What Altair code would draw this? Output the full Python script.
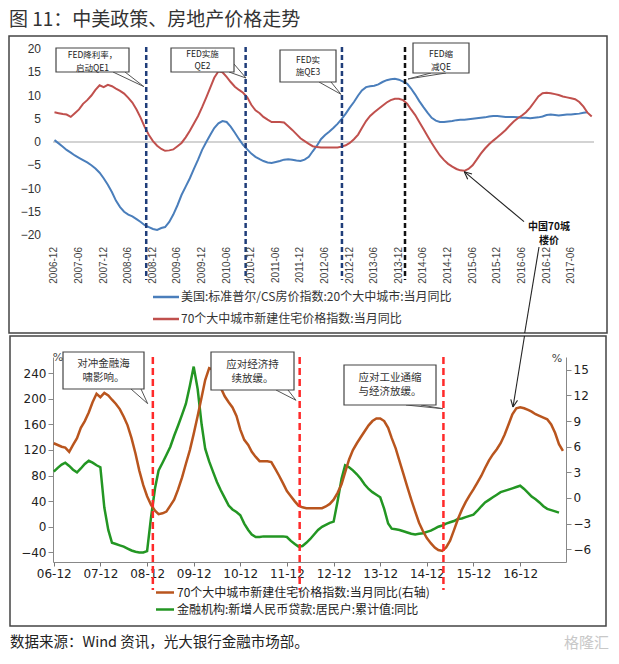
import altair as alt
import pandas as pd

CJK = "Noto Sans CJK SC"
TITLE = "图 11：中美政策、房地产价格走势"
SOURCE = "数据来源：Wind 资讯，光大银行金融市场部。"
WATERMARK = "格隆汇"

START = "2006-12-01"

# 美国:标准普尔/CS房价指数:20个大中城市:当月同比 (2006-12 .. 2017-10)
us_cs20 = [0.4,
           -0.3, -1.0, -1.7, -2.3, -2.9, -3.4, -3.9, -4.4, -5.0, -5.7, -6.6, -7.8,
           -9.2, -10.8, -12.6, -14.0, -15.0, -15.6, -16.0, -16.6, -17.2, -17.9, -18.3, -18.7,
           -18.9, -18.5, -18.3, -17.2, -15.6, -13.6, -11.4, -9.6, -7.8, -5.8, -3.8, -1.7,
           0.0, 1.6, 3.0, 4.0, 4.5, 4.3, 3.3, 2.0, 0.6, -0.6, -1.6, -2.5,
           -3.2, -3.7, -4.1, -4.4, -4.5, -4.3, -4.1, -3.8, -3.7, -3.8, -4.0, -4.1,
           -3.8, -3.2, -2.0, -0.8, 0.6, 1.5, 2.2, 3.0, 3.9, 4.9, 6.1, 7.4,
           8.6, 10.0, 11.1, 11.8, 12.0, 12.1, 12.4, 12.9, 13.3, 13.5, 13.6, 13.4,
           13.0, 12.5, 11.5, 10.2, 8.8, 7.5, 6.3, 5.2, 4.6, 4.3, 4.3, 4.4,
           4.5, 4.7, 4.8, 4.8, 4.9, 5.0, 5.1, 5.2, 5.3, 5.5, 5.6, 5.6,
           5.5, 5.4, 5.4, 5.4, 5.3, 5.2, 5.2, 5.1, 5.2, 5.3, 5.5, 5.8,
           5.9, 5.8, 5.7, 5.8, 5.9, 5.9, 6.0, 6.1, 6.3, 6.4]

# 70个大中城市新建住宅价格指数:当月同比 (2006-12 .. 2017-11)
cn_70 = [6.4,
         6.2, 6.0, 5.9, 5.4, 6.2, 7.0, 8.2, 9.0, 10.0, 11.2, 12.2, 11.8,
         12.3, 12.0, 11.5, 11.0, 10.4, 9.5, 8.5, 7.0, 5.2, 3.2, 1.5, 0.2,
         -0.8, -1.5, -1.9, -1.8, -1.6, -0.9, -0.2, 1.0, 2.4, 4.0, 5.6, 7.5,
         9.6, 11.8, 13.8, 15.2, 15.0, 14.0, 12.9, 11.9, 11.2, 10.6, 9.6, 8.0,
         6.8, 6.2, 5.4, 4.8, 4.3, 4.3, 4.3, 4.2, 3.4, 2.6, 1.7, 0.8,
         0.2, -0.4, -0.9, -1.1, -1.2, -1.2, -1.2, -1.2, -1.2, -1.0, -0.7, -0.2,
         0.6, 1.6, 3.0, 4.5, 5.6, 6.4, 7.1, 7.8, 8.5, 9.0, 9.3, 9.3,
         9.0, 8.2, 7.0, 5.8, 4.3, 2.8, 1.3, -0.2, -1.6, -2.9, -3.9, -4.7,
         -5.3, -5.8, -6.1, -6.2, -5.8, -5.0, -3.8, -2.5, -1.4, -0.5, 0.3, 1.0,
         1.8, 2.6, 3.5, 4.4, 5.1, 5.7, 6.4, 7.4, 8.6, 9.8, 10.5, 10.6,
         10.5, 10.3, 10.1, 9.8, 9.6, 9.4, 9.2, 8.6, 7.6, 6.3, 5.5]

# 金融机构:新增人民币贷款:居民户:累计值:同比 (2006-12 .. 2017-10)
hh_loan = [86,
           92, 97, 100, 95, 89, 85, 91, 98, 103, 100, 96, 93,
           30, -5, -25, -27, -29, -31, -34, -37, -39, -40, -40, -38,
           15, 60, 88, 100, 112, 125, 142, 158, 175, 192, 220, 250,
           215, 160, 122, 102, 86, 70, 57, 45, 33, 27, 23, 18,
           5, -5, -12, -16, -16, -15, -15, -15, -15, -15, -15, -16,
           -22, -27, -31, -30, -25, -19, -12, -5, 0, 3, 6, 8,
           40, 75, 96, 93, 88, 82, 75, 66, 59, 54, 50, 46,
           28, 5, -3, -4, -5, -7, -9, -11, -12, -11, -10, -8,
           -6, -3, 0, 2, 5, 7, 9, 12, 13, 15, 17, 19,
           25, 32, 38, 42, 46, 50, 54, 56, 58, 60, 62, 64,
           59, 53, 47, 43, 38, 32, 28, 26, 24, 22]

top_events = ["2008-10-12", "2010-10-20", "2012-10-04", "2014-01-15"]
top_event_colors = ["#1f3d7a", "#1f3d7a", "#1f3d7a", "#111111"]
bottom_events = ["2009-01-15", "2012-03-10", "2015-04-10"]

top_tick_labels = ["2006-12", "2007-06", "2007-12", "2008-06", "2008-12", "2009-06", "2009-12",
                   "2010-06", "2010-12", "2011-06", "2011-12", "2012-06", "2012-12", "2013-06",
                   "2013-12", "2014-06", "2014-12", "2015-06", "2015-12", "2016-06", "2016-12",
                   "2017-06"]
bottom_tick_years = list(range(2006, 2017))
top_y_ticks = [-20, -15, -10, -5, 0, 5, 10, 15, 20]
left_y_ticks = [-40, 0, 40, 80, 120, 160, 200, 240]
right_y_ticks = [-6, -3, 0, 3, 6, 9, 12, 15]

LEG_TOP = ["美国:标准普尔/CS房价指数:20个大中城市:当月同比", "70个大中城市新建住宅价格指数:当月同比"]
LEG_BOT = ["70个大中城市新建住宅价格指数:当月同比(右轴)", "金融机构:新增人民币贷款:居民户:累计值:同比"]

BLUE, RED = "#4a7ebb", "#c0504d"
BROWN, GREEN = "#b9551e", "#239623"


def dt(y, m, d):
    return alt.DateTime(year=y, month=m, date=d, utc=True)


def series(vals):
    d = pd.date_range(START, periods=len(vals), freq="MS").strftime("%Y-%m-%d")
    return pd.DataFrame({"date": d, "v": vals})


one = pd.DataFrame({"a": [0]})


def frame(x0, x1, y0, y1):
    return alt.Chart(one).mark_rect(fillOpacity=0, stroke="#444", strokeWidth=1.5).encode(
        x=alt.value(x0), x2=alt.value(x1), y=alt.value(y0), y2=alt.value(y1))


def px_rules(rows, color="#555", width=1.0):
    return alt.Chart(pd.DataFrame(rows, columns=["x1", "y1", "x2", "y2"])).mark_rule(
        color=color, strokeWidth=width).encode(
        x=alt.X("x1:Q", scale=None, axis=None), x2="x2:Q",
        y=alt.Y("y1:Q", scale=None, axis=None), y2="y2:Q")


def px_boxes(rows):
    return alt.Chart(pd.DataFrame(rows, columns=["x1", "y1", "x2", "y2"])).mark_rect(
        fill="white", stroke="#444", strokeWidth=1.2).encode(
        x=alt.X("x1:Q", scale=None, axis=None), x2="x2:Q",
        y=alt.Y("y1:Q", scale=None, axis=None), y2="y2:Q")


def px_text(rows, size, color="#333", align="center", weight="normal", font=CJK, baseline="middle"):
    return alt.Chart(pd.DataFrame(rows, columns=["x", "y", "t"])).mark_text(
        fontSize=size, color=color, align=align, baseline=baseline, font=font,
        fontWeight=weight).encode(
        x=alt.X("x:Q", scale=None, axis=None), y=alt.Y("y:Q", scale=None, axis=None), text="t:N")


# ---------------- top panel ----------------
W1, H1 = 541, 186
x_top = alt.X("date:T", title=None, axis=None,
              scale=alt.Scale(type="utc", domain=[dt(2006, 11, 20), dt(2017, 11, 18)]))
y_top = alt.Y("v:Q", title=None, axis=None, scale=alt.Scale(domain=[-20, 20], nice=False))

zero_top = alt.Chart(pd.DataFrame({"v": [0]})).mark_rule(color="#c4c4c4", strokeWidth=1.5).encode(
    y=y_top, x=alt.value(0), x2=alt.value(W1))
blue_line = alt.Chart(series(us_cs20)).mark_line(color=BLUE, strokeWidth=2).encode(x=x_top, y=y_top)
red_line = alt.Chart(series(cn_70)).mark_line(color=RED, strokeWidth=2).encode(x=x_top, y=y_top)
top_rules = alt.Chart(pd.DataFrame({"date": top_events, "c": top_event_colors})).mark_rule(
    strokeWidth=2.5, strokeDash=[5, 3]).encode(
    x=x_top, y=alt.value(-2), y2=alt.value(231), color=alt.Color("c:N", scale=None))
top_xlabels = alt.Chart(pd.DataFrame({"date": [t + "-01" for t in top_tick_labels], "t": top_tick_labels})).mark_text(
    angle=270, align="right", baseline="middle", fontSize=10, font="Liberation Sans", color="#444").encode(
    x=x_top, y=alt.value(H1 + 12), text="t:N")
top_ylabels = alt.Chart(pd.DataFrame({"v": top_y_ticks})).mark_text(
    align="right", baseline="middle", fontSize=12, font="Liberation Sans", color="#333").encode(
    y=y_top, x=alt.value(-12), text="v:Q")

top_boxes = px_boxes([(3, -1, 76, 23), (118, -1, 181, 23), (227, 1, 283, 33), (360, -6, 416, 24)])
top_tails = px_rules([(60, 23, 91, 37.7), (72, 23, 91, 37.7),
                      (176, 23, 193, 29), (181, 15, 193, 29),
                      (266, 33, 288, 45.3), (278, 33, 288, 45.3),
                      (378, 24, 355, 30), (393, 24, 355, 30)])
top_box_text = px_text([(39.5, 6, "FED降利率，"), (39.5, 18.5, "启动QE1"),
                        (149.5, 4.5, "FED实施"), (149.5, 16.5, "QE2"),
                        (255, 11, "FED实"), (255, 22.5, "施QE3"),
                        (388, 4.5, "FED缩"), (388, 17.5, "减QE")], 8.5, color="#222")
arrow_text = px_text([(496, 177.5, "中国70城"), (496, 191.5, "楼价")], 10, color="#111", weight="bold")
arrows_top = px_rules([(471, 172.7, 411.3, 122.7), (411.3, 122.7, 414.7, 130.2), (411.3, 122.7, 419, 125),
                       (486, 198, 471.7, 284)], color="#222", width=1.1)
leg_top_lines = alt.Chart(pd.DataFrame({"y": [248, 270], "c": [BLUE, RED]})).mark_rule(strokeWidth=2.5).encode(
    x=alt.value(100), x2=alt.value(126), y=alt.Y("y:Q", scale=None, axis=None), color=alt.Color("c:N", scale=None))
leg_top_text = px_text([(128, 248, LEG_TOP[0]), (128, 270, LEG_TOP[1])], 12, color="#333", align="left")
# invisible spacer fixing the top edge of the page content
spacer = alt.Chart(one).mark_rule(opacity=0, strokeWidth=1).encode(
    x=alt.value(-44), x2=alt.value(-40), y=alt.value(-41))
title_text = px_text([(-44, -29, TITLE)], 19, color="#333", align="left")

top = alt.layer(frame(-44, 554, -13, 284), spacer, zero_top, blue_line, red_line, top_rules,
                top_xlabels, top_ylabels,
                top_tails, top_boxes, top_box_text, arrows_top, arrow_text,
                leg_top_lines, leg_top_text, title_text).properties(width=W1, height=H1)

# ---------------- bottom panel ----------------
W2, H2 = 513, 205
x_bot = alt.X("date:T", title=None,
              scale=alt.Scale(type="utc", domain=[dt(2006, 11, 25), dt(2017, 11, 25)]),
              axis=alt.Axis(values=[dt(y, 12, 1) for y in bottom_tick_years], format="%y-%m",
                            labelFontSize=12, labelFont="DejaVu Sans", labelColor="#222",
                            tickSize=4, tickColor="#777", domainColor="#888", labelPadding=2,
                            grid=False, labelOverlap=False, labelFlush=False))
green_line = alt.Chart(series(hh_loan)).mark_line(color=GREEN, strokeWidth=2.5).encode(
    x=x_bot,
    y=alt.Y("v:Q", title=None, scale=alt.Scale(domain=[-55, 265], nice=False),
            axis=alt.Axis(orient="left", values=left_y_ticks, format="d", labelFontSize=12,
                          labelFont="DejaVu Sans", labelColor="#222", tickSize=5, tickColor="#888",
                          domainColor="#888", labelPadding=2, grid=False, labelOverlap=False,
                          labelFlush=False)))
brown_line = alt.Chart(series(cn_70)).mark_line(color=BROWN, strokeWidth=2.5).encode(
    x=x_bot,
    y=alt.Y("v:Q", title=None, scale=alt.Scale(domain=[-7.5, 16.5], nice=False),
            axis=alt.Axis(orient="right", values=right_y_ticks, format="d", labelFontSize=12,
                          labelFont="DejaVu Sans", labelColor="#222", tickSize=5, tickColor="#888",
                          domainColor="#888", labelPadding=2, grid=False, labelOverlap=False,
                          labelFlush=False)))
bot_rules = alt.Chart(pd.DataFrame({"date": bottom_events})).mark_rule(
    color="#ff2a2a", strokeWidth=2.5, strokeDash=[7, 4]).encode(
    x=x_bot, y=alt.value(0), y2=alt.value(233))
bot_boxes = px_boxes([(10, -5, 91, 32), (158, -5, 241, 33), (291, 8, 383, 48)])
bot_tails = px_rules([(78, 32, 94.7, 46.7), (88, 32, 94.7, 46.7),
                      (223, 33, 243, 43.3), (235, 33, 243, 43.3),
                      (353, 48, 389.7, 51.7), (368, 48, 389.7, 51.7)])
bot_box_text = px_text([(50.5, 6.5, "对冲金融海"), (50.5, 20.5, "啸影响。"),
                        (199.5, 8, "应对经济持"), (199.5, 22, "续放缓。"),
                        (337, 21, "应对工业通缩"), (337, 35, "与经济放缓。")], 10.5, color="#333")
pct_text = px_text([(5, 1, "%"), (504, 2, "%")], 11, color="#444", font="DejaVu Sans")
arrows_bot = px_rules([(471.5, -21, 460, 50), (460, 50, 464.5, 43.4), (460, 50, 457.8, 42.3)],
                      color="#222", width=1.1)
leg_bot_lines = alt.Chart(pd.DataFrame({"y": [235.5, 252.5], "c": [BROWN, GREEN]})).mark_rule(strokeWidth=2.5).encode(
    x=alt.value(103), x2=alt.value(121), y=alt.Y("y:Q", scale=None, axis=None), color=alt.Color("c:N", scale=None))
leg_bot_text = px_text([(124, 235.5, LEG_BOT[0]), (124, 252.5, LEG_BOT[1])], 12, color="#222", align="left")
footer = px_text([(-43, 286, SOURCE)], 14.5, color="#222", align="left")
mark_wm = px_text([(556, 286, WATERMARK)], 15, color="#c8c8c8", align="right")

bottom = alt.layer(frame(-43, 553, -21, 269), green_line, brown_line, bot_rules,
                   bot_tails, bot_boxes, bot_box_text, pct_text, arrows_bot,
                   leg_bot_lines, leg_bot_text, footer, mark_wm).resolve_scale(
    y="independent").properties(width=W2, height=H2)

chart = alt.vconcat(top, bottom, spacing=1).properties(padding=0, background="white").configure_view(
    stroke=None)

chart.save("out.html", embed_options={"renderer": "svg", "actions": False})
